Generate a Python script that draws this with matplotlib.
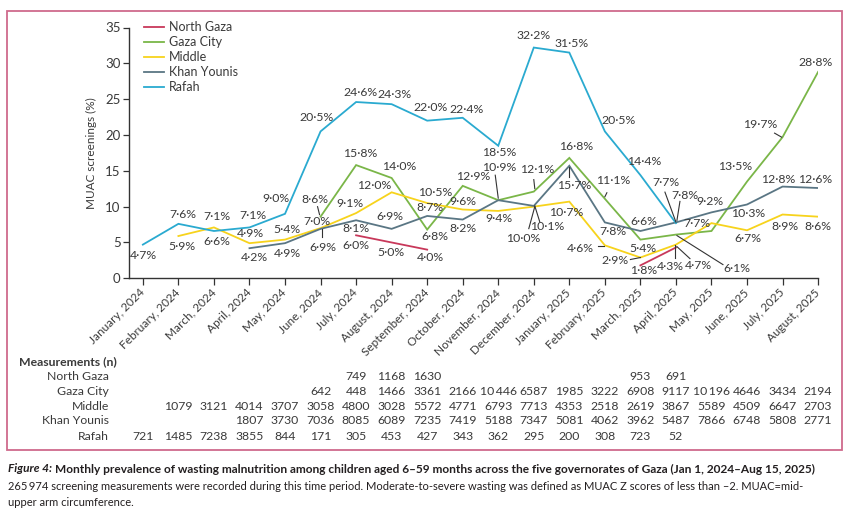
import numpy as np
import matplotlib
matplotlib.use("Agg")
import matplotlib.pyplot as plt
from matplotlib.patches import Rectangle
from matplotlib.transforms import blended_transform_factory

plt.rcParams['font.family'] = ['Liberation Sans Narrow', 'Lato', 'DejaVu Sans']

nan = np.nan
months = ["January, 2024", "February, 2024", "March, 2024", "April, 2024", "May, 2024",
          "June, 2024", "July, 2024", "August, 2024", "September, 2024", "October, 2024",
          "November, 2024", "December, 2024", "January, 2025", "February, 2025",
          "March, 2025", "April, 2025", "May, 2025", "June, 2025", "July, 2025", "August, 2025"]

north_gaza = [nan]*6 + [6.0, 5.0, 4.0] + [nan]*5 + [1.8, 4.3] + [nan]*4
gaza_city = [nan]*5 + [8.6, 15.8, 14.0, 6.8, 12.9, 10.9, 12.1, 16.8, 11.1, 5.4, 6.1, 6.6, 13.5, 19.7, 28.8]
middle = [nan] + [5.9, 7.1, 4.9, 5.4, 7.0, 9.1, 12.0, 10.5, 9.6, 9.4, 10.0, 10.7, 4.6, 2.9, 4.7, 7.7, 6.7, 8.9, 8.6]
khan_younis = [nan]*3 + [4.2, 4.9, 6.9, 8.1, 6.9, 8.7, 8.2, 10.9, 10.1, 15.7, 7.8, 6.6, 7.8, 9.2, 10.3, 12.8, 12.6]
rafah = [4.7, 7.6, 6.6, 7.1, 9.0, 20.5, 24.6, 24.3, 22.0, 22.4, 18.5, 32.2, 31.5, 20.5, 14.4, 7.7] + [nan]*4

n_north_gaza = [None]*6 + [749, 1168, 1630] + [None]*5 + [953, 691] + [None]*4
n_gaza_city = [None]*5 + [642, 448, 1466, 3361, 2166, 10446, 6587, 1985, 3222, 6908, 9117, 10196, 4646, 3434, 2194]
n_middle = [None] + [1079, 3121, 4014, 3707, 3058, 4800, 3028, 5572, 4771, 6793, 7713, 4353, 2518, 2619, 3867, 5589, 4509, 6647, 2703]
n_khan_younis = [None]*3 + [1807, 3730, 7036, 8085, 6089, 7235, 7419, 5188, 7347, 5081, 4062, 3962, 5487, 7866, 6748, 5808, 2771]
n_rafah = [721, 1485, 7238, 3855, 844, 171, 305, 453, 427, 343, 362, 295, 200, 308, 723, 52] + [None]*4

series_names = ["North Gaza", "Gaza City", "Middle", "Khan Younis", "Rafah"]
series_vals = [north_gaza, gaza_city, middle, khan_younis, rafah]
series_n = [n_north_gaza, n_gaza_city, n_middle, n_khan_younis, n_rafah]
colors = ["#c8385a", "#7ab648", "#f7d31c", "#5a7684", "#2aaad0"]

# ---- label placement (pixel offsets from point, y downwards) ----
label_off = {
    "Rafah": {0: (1, 11), 1: (4, -9), 2: (3, 10), 3: (3, -12), 4: (-9, -15), 5: (-4, -14),
              6: (4, -10), 7: (3, -10), 8: (3, -13), 9: (4, -8), 10: (1, 7), 11: (0, -12),
              12: (2, -9), 13: (14, -11), 14: (4, -14), 15: (-10, -41)},
    "Gaza City": {5: (-6, -17), 6: (4, -12), 7: (8, -11), 8: (8, 7), 9: (10, -9), 10: (1, -33),
                  11: (3, -22), 12: (7, -11), 13: (8, -18), 14: (3, 9), 15: (61, 34),
                  17: (-12, -15), 18: (-22, -13), 19: (-3, -9)},
    "Middle": {1: (4, 10), 2: (3, -11), 3: (1, -10), 4: (2, -10), 5: (-4, -7), 6: (-6, -10),
               7: (-17, -7), 8: (8, -11), 9: (0, -8), 10: (1, 8), 11: (-11, 32), 12: (-3, 11),
               13: (-25, 3), 14: (-25, 3), 15: (22, 21), 16: (-15, 0), 17: (1, 8),
               18: (2, 12), 19: (0, 10)},
    "Khan Younis": {3: (5, 9), 4: (2, 10), 5: (2, 19), 6: (0, 8), 7: (-2, -12), 8: (3, -8),
                    9: (0, 9), 11: (13, 21), 12: (5, 20), 13: (8, 9), 14: (3, -10),
                    15: (9, -27), 16: (-2, -11), 17: (1, 9), 18: (-4, -7), 19: (-3, -9)},
    "North Gaza": {6: (0, 10), 7: (-1, 10), 8: (3, 8), 14: (3, 5), 15: (-6, 19)},
}
# leader lines: (start dx, start dy, end dx, end dy) in pixels relative to point
leaders = {
    ("Gaza City", 5): (-1, -2, -3, -10),
    ("Khan Younis", 5): (1, 0, 1, 8),
    ("Gaza City", 10): (0, -2, -3, -25),
    ("Gaza City", 11): (1, -3, 0, -12),
    ("Middle", 11): (1, 0, -5, 22),
    ("Khan Younis", 11): (1, 0, 6, 16),
    ("Khan Younis", 12): (0, 1, 0, 11),
    ("Middle", 13): (-1, 1, -7, 1),
    ("Gaza City", 13): (0, -2, 2, -6),
    ("Middle", 14): (0, 0, -10, 2),
    ("Rafah", 15): (0, -1, -11, -31),
    ("Khan Younis", 15): (1, -2, 4, -21),
    ("North Gaza", 15): (-1, -2, -1, 11),
    ("Middle", 15): (1, 2, 14, 14),
    ("Gaza City", 15): (1, 1, 47, 30),
    ("Gaza City", 18): (-1, 0, -8, -4),
}

W, H = 851, 522
fig = plt.figure(figsize=(W/100, H/100), dpi=100)
ax_l, ax_r, ax_b, ax_t = 129, 818.1, 278.3, 27.5
ax = fig.add_axes([ax_l/W, 1-ax_b/H, (ax_r-ax_l)/W, (ax_b-ax_t)/H])

txt = "#3a3a3a"
x = np.arange(len(months))
for name, vals, c in zip(series_names, series_vals, colors):
    ax.plot(x, vals, color=c, lw=1.3, label=name, solid_joinstyle='miter', zorder=3)

ax.set_xlim(-0.39, 19.0)
ax.set_ylim(0, 35)
ax.set_yticks(range(0, 36, 5))
ax.set_xticks(x)
ax.set_xticklabels(months, rotation=45, ha='right', va='center', rotation_mode='anchor')
for s in ["top", "right"]:
    ax.spines[s].set_visible(False)
for s in ["left", "bottom"]:
    ax.spines[s].set_color("#333333")
    ax.spines[s].set_linewidth(1.0)
ax.tick_params(axis='y', direction='out', length=4, width=0.9, color="#333333",
               labelsize=9.5, labelcolor=txt, pad=2)
ax.tick_params(axis='x', direction='out', length=5, width=0.9, color="#333333",
               labelsize=8.5, labelcolor=txt, pad=4)
ax.set_ylabel("MUAC screenings (%)", fontsize=8.5, color=txt, labelpad=6)

# data labels
lab_fs = 8.8
for name, vals in zip(series_names, series_vals):
    for i, (dx, dy) in label_off[name].items():
        v = vals[i]
        s = f"{v:.1f}".replace(".", "\u00b7") + "%"
        ax.annotate(s, xy=(i, v), xytext=(dx, -dy), textcoords='offset pixels',
                    ha='center', va='center', fontsize=lab_fs, color=txt, zorder=5,
                    annotation_clip=False)
for (name, i), (sx, sy, ex, ey) in leaders.items():
    v = series_vals[series_names.index(name)][i]
    p = ax.transData.transform((i, v))
    pts = np.array([[p[0] + sx, p[1] - sy], [p[0] + ex, p[1] - ey]])
    d = ax.transData.inverted().transform(pts)
    ax.plot(d[:, 0], d[:, 1], color="#333333", lw=0.8, zorder=4, clip_on=False)

# legend
ax.legend(loc='upper left', bbox_to_anchor=(144/W, 1-21/H), bbox_transform=fig.transFigure,
          frameon=False, fontsize=9, handlelength=1.6, handletextpad=0.4,
          labelspacing=0.24, borderpad=0, borderaxespad=0, labelcolor=txt)

# measurement table
def fmt_n(n):
    return f"{n:,}".replace(",", "\u2009") if n >= 10000 else str(n)

tr = blended_transform_factory(ax.transData, fig.transFigure)
fig.text(19/W, 1-362/H, "Measurements (n)", fontsize=8.8, fontweight='bold', color=txt,
         ha='left', va='center')
row_y = [376, 391.5, 406.5, 421, 436.5]
for name, ns, yy in zip(series_names, series_n, row_y):
    fig.text(109/W, 1-yy/H, name, fontsize=8.8, color=txt, ha='right', va='center')
    for i, n in enumerate(ns):
        if n is None:
            continue
        ax.text(i, 1-yy/H, fmt_n(n), transform=tr, fontsize=8.8, color=txt, ha='center',
                va='center', clip_on=False)

# border
fig.add_artist(Rectangle((7/W, 1-450/H), 835/W, 439/H, transform=fig.transFigure,
                         fill=False, edgecolor="#cf6a8c", lw=1.3))

# caption (font size fitted to the reference line widths)
cap = "#231f20"
fig.canvas.draw()
r = fig.canvas.get_renderer()
fs = 9.2
t1 = fig.text(8/W, 1-469/H, "Figure 4:", fontsize=fs, fontweight='bold', fontstyle='italic',
              color=cap, ha='left', va='center')
t2 = fig.text(0, 1-469/H,
              "Monthly prevalence of wasting malnutrition among children aged 6\u201359 months across the five governorates of Gaza (Jan 1, 2024\u2013Aug 15, 2025)",
              fontsize=fs, fontweight='bold', color=cap, ha='left', va='center')
w1 = t1.get_window_extent(r).width
w2 = t2.get_window_extent(r).width
k = (818 - 8 - 3) / (w1 + w2)
t1.set_fontsize(fs * k)
t2.set_fontsize(fs * k)
t2.set_x((8 + w1 * k + 3) / W)

l2 = fig.text(8/W, 1-487/H,
              "265\u2009974 screening measurements were recorded during this time period. Moderate-to-severe wasting was defined as MUAC Z scores of less than \u20132. MUAC=mid-",
              fontsize=fs, color=cap, ha='left', va='center')
k2 = (798 - 8) / l2.get_window_extent(r).width
l2.set_fontsize(fs * k2)
fig.text(8/W, 1-503/H, "upper arm circumference.", fontsize=fs * k2, color=cap, ha='left', va='center')

fig.savefig("out.png", dpi=100)
